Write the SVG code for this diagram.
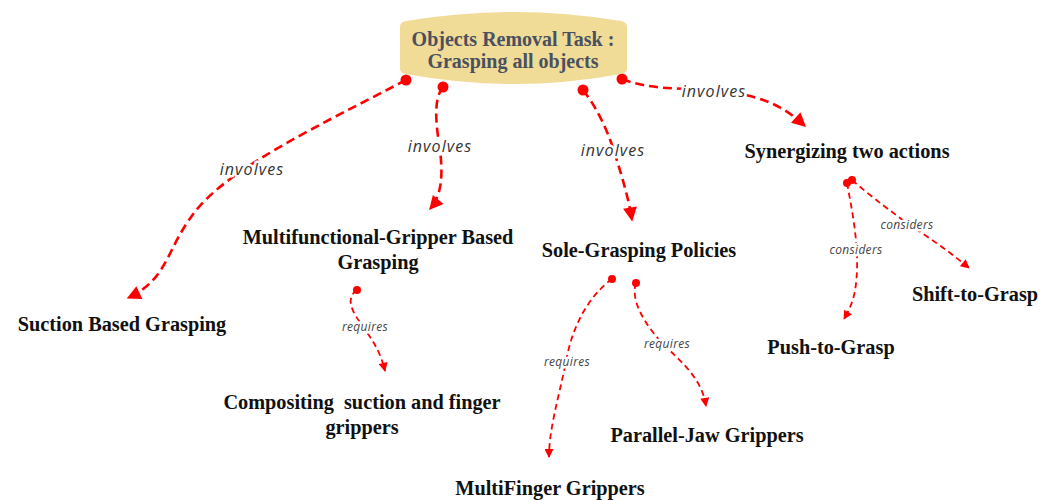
<svg xmlns="http://www.w3.org/2000/svg" width="1051" height="500" viewBox="0 0 1051 500">
<defs>
<style>
.node{font-family:"Liberation Serif","Times New Roman",serif;font-weight:bold;font-size:20.3px;fill:#111;text-anchor:middle}
.root{font-family:"Liberation Serif","Times New Roman",serif;font-weight:bold;font-size:20px;fill:#4a5060;text-anchor:middle}
.lbl{font-family:"Open Sans","Noto Sans",sans-serif;font-style:italic;fill:#333;text-anchor:middle;stroke:#fff;stroke-width:5px;paint-order:stroke;stroke-linejoin:round}
.big{font-size:16px;letter-spacing:1.1px}
.sm{font-size:12px;letter-spacing:0.3px;fill:#444}
.e{fill:none;stroke:#f00;stroke-width:2.6;stroke-dasharray:9 5}
.es{fill:none;stroke:#f00;stroke-width:1.8;stroke-dasharray:6 4}
.dot{fill:#f00}
</style>
<marker id="ahb" viewBox="0 0 10 10" refX="9" refY="5" markerWidth="16" markerHeight="14" markerUnits="userSpaceOnUse" orient="auto">
<path d="M0,0 L10,5 L0,10 Z" fill="#f00"/>
</marker>
<marker id="ahs" viewBox="0 0 10 10" refX="9" refY="5" markerWidth="11" markerHeight="9" markerUnits="userSpaceOnUse" orient="auto">
<path d="M0,0 L10,5 L0,10 Z" fill="#f00"/>
</marker>
</defs>
<rect width="1051" height="500" fill="#fff"/>
<g id="connectors">
<path class="e" d="M406,80 C320,125 235,165 198,208 C165,248 170,278 128,298" marker-end="url(#ahb)"/>
<path class="e" d="M443,87 C432,100 437,130 440,150 C443,175 442,195 430,209" marker-end="url(#ahb)"/>
<path class="e" d="M583,90 C595,105 605,125 612,145 C620,170 628,195 632,220" marker-end="url(#ahb)"/>
<path class="e" d="M622,79 C650,90 680,88 710,90 C760,94 782,105 805,126" marker-end="url(#ahb)"/>
<path class="es" d="M847,183 C852,210 858,240 857,270 C856,295 852,305 844,319" marker-end="url(#ahs)"/>
<path class="es" d="M852,180 C875,200 890,210 905,222 C930,238 950,252 969,268" marker-end="url(#ahs)"/>
<path class="es" d="M357,290 C345,298 352,312 362,325 C372,340 380,350 385,371" marker-end="url(#ahs)"/>
<path class="es" d="M612,279 C590,295 572,325 566,362 C558,400 549,430 549,457" marker-end="url(#ahs)"/>
<path class="es" d="M636,283 C630,300 645,325 663,344 C685,365 702,380 706,406" marker-end="url(#ahs)"/>
<circle class="dot" cx="406" cy="80" r="5.5"/>
<circle class="dot" cx="443" cy="87" r="5.5"/>
<circle class="dot" cx="583" cy="90" r="5.5"/>
<circle class="dot" cx="622" cy="79" r="5.5"/>
<circle class="dot" cx="847" cy="183" r="4"/>
<circle class="dot" cx="852" cy="180" r="4"/>
<circle class="dot" cx="357" cy="290" r="4"/>
<circle class="dot" cx="612" cy="279" r="4"/>
<circle class="dot" cx="636" cy="283" r="4"/>
<text class="lbl big" x="252" y="175">involves</text>
<text class="lbl big" x="440" y="152">involves</text>
<text class="lbl big" x="613" y="156">involves</text>
<text class="lbl big" x="714" y="97">involves</text>
<text class="lbl sm" x="856" y="254">considers</text>
<text class="lbl sm" x="907" y="229">considers</text>
<text class="lbl sm" x="365" y="331">requires</text>
<text class="lbl sm" x="567" y="366">requires</text>
<text class="lbl sm" x="667" y="348">requires</text>
</g>
<g id="root">
<path d="M400,27 Q400,22 406,21 Q513,3 621,21 Q627,22 627,27 L627,69 Q627,73 621,74 Q513,94 406,74 Q400,73 400,69 Z" fill="#f0dc96"/>
<text class="root" x="513" y="46">Objects Removal Task :</text>
<text class="root" x="513" y="68">Grasping all objects</text>
</g>
<g id="suction"><text class="node" x="122" y="331">Suction Based Grasping</text></g>
<g id="multifunctional"><text class="node" x="378" y="244">Multifunctional-Gripper Based</text><text class="node" x="378" y="269">Grasping</text></g>
<g id="sole"><text class="node" x="639" y="257">Sole-Grasping Policies</text></g>
<g id="synergizing"><text class="node" x="847" y="158">Synergizing two actions</text></g>
<g id="shift"><text class="node" x="975" y="301">Shift-to-Grasp</text></g>
<g id="push"><text class="node" x="831" y="354">Push-to-Grasp</text></g>
<g id="compositing"><text class="node" x="362" y="409" xml:space="preserve">Compositing  suction and finger</text><text class="node" x="362" y="434">grippers</text></g>
<g id="parallel"><text class="node" x="707" y="442">Parallel-Jaw Grippers</text></g>
<g id="multifinger"><text class="node" x="550" y="495">MultiFinger Grippers</text></g>
</svg>
